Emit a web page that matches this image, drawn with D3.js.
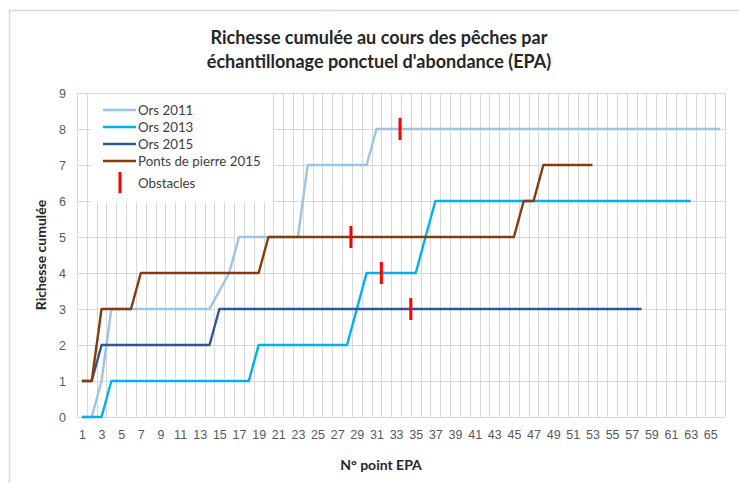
<!DOCTYPE html>
<html>
<head>
<meta charset="utf-8">
<script src="https://cdn.jsdelivr.net/npm/d3@7"></script>
<style>
  body { margin: 0; background: #fff; }
  svg { display: block; font-family: "Lato", "Liberation Sans", sans-serif; }
</style>
</head>
<body>
<svg id="chart" width="739" height="483"></svg>
<script>
// Data
const categories = d3.range(1, 67); // N° point EPA 1..66
const xTickLabels = d3.range(1, 67, 2);
const yTickLabels = [0, 1, 2, 3, 4, 5, 6, 7, 8, 9];

const seriesNames = ["Ors 2011", "Ors 2013", "Ors 2015", "Ponts de pierre 2015"];
const seriesColors = ["#9dc3e6", "#00b0f0", "#2f5597", "#843c0c"];

const ors2011 = [
  0, 0, 1, 3, 3, 3, 3, 3, 3, 3,
  3, 3, 3, 3, null, 4, 5, 5, 5, 5,
  5, 5, 5, 7, 7, 7, 7, 7, 7, 7,
  8, 8, 8, 8, 8, 8, 8, 8, 8, 8,
  8, 8, 8, 8, 8, 8, 8, 8, 8, 8,
  8, 8, 8, 8, 8, 8, 8, 8, 8, 8,
  8, 8, 8, 8, 8, 8
];
const ors2013 = [
  0, 0, 0, 1, 1, 1, 1, 1, 1, 1,
  1, 1, 1, 1, 1, 1, 1, 1, 2, 2,
  2, 2, 2, 2, 2, 2, 2, 2, 3, 4,
  4, 4, 4, 4, 4, 5, 6, 6, 6, 6,
  6, 6, 6, 6, 6, 6, 6, 6, 6, 6,
  6, 6, 6, 6, 6, 6, 6, 6, 6, 6,
  6, 6, 6
];
const ors2015 = [
  1, 1, 2, 2, 2, 2, 2, 2, 2, 2,
  2, 2, 2, 2, 3, 3, 3, 3, 3, 3,
  3, 3, 3, 3, 3, 3, 3, 3, 3, 3,
  3, 3, 3, 3, 3, 3, 3, 3, 3, 3,
  3, 3, 3, 3, 3, 3, 3, 3, 3, 3,
  3, 3, 3, 3, 3, 3, 3, 3
];
const pontsDePierre2015 = [
  1, 1, 3, 3, 3, 3, 4, 4, 4, 4,
  4, 4, 4, 4, 4, 4, 4, 4, 4, 5,
  5, 5, 5, 5, 5, 5, 5, 5, 5, 5,
  5, 5, 5, 5, 5, 5, 5, 5, 5, 5,
  5, 5, 5, 5, 5, 6, 6, 7, 7, 7,
  7, 7, 7
];

// obstacles: position along the EPA axis and level
const obstacleX = [28.4, 31.5, 33.4, 34.5];
const obstacleY = [5, 4, 8, 3];

const allSeries = [ors2011, ors2013, ors2015, pontsDePierre2015];

// Layout
const svg = d3.select("#chart");
const plot = { left: 77, right: 725, top: 93, bottom: 417 };

svg.append("rect").attr("width", 739).attr("height", 483).attr("fill", "#fff");
svg.append("rect")
  .attr("x", 9.5).attr("y", 10.5).attr("width", 760).attr("height", 500)
  .attr("fill", "none").attr("stroke", "#d9d9d9").attr("stroke-width", 1.5);

const x = d3.scaleLinear()
  .domain([categories[0] - 0.5, categories[categories.length - 1] + 0.5])
  .range([plot.left, plot.right]);
const y = d3.scaleLinear().domain([0, 9]).range([plot.bottom, plot.top]);

// Gridlines
const grid = svg.append("g").attr("stroke", "#d9d9d9").attr("stroke-width", 1);
grid.selectAll(".vg")
  .data(d3.range(categories[0] - 0.5, categories[categories.length - 1] + 1, 1))
  .join("line")
  .attr("x1", d => Math.round(x(d)) + 0.5).attr("x2", d => Math.round(x(d)) + 0.5)
  .attr("y1", plot.top).attr("y2", plot.bottom);
grid.selectAll(".hg")
  .data(yTickLabels)
  .join("line")
  .attr("x1", plot.left).attr("x2", plot.right)
  .attr("y1", d => Math.round(y(d)) + 0.5).attr("y2", d => Math.round(y(d)) + 0.5);

// Axes
const xAxis = svg.append("g")
  .attr("transform", `translate(0, ${plot.bottom})`)
  .call(d3.axisBottom(x).tickValues(xTickLabels).tickSize(0).tickPadding(13).tickFormat(d3.format("d")));
xAxis.select(".domain").remove();
xAxis.selectAll("text").attr("fill", "#595959").style("font-size", "12.5px");

const yAxis = svg.append("g")
  .attr("transform", `translate(${plot.left}, 0)`)
  .call(d3.axisLeft(y).tickValues(yTickLabels).tickSize(0).tickPadding(11).tickFormat(d3.format("d")));
yAxis.select(".domain").remove();
yAxis.selectAll("text").attr("fill", "#595959").style("font-size", "12.5px");

// Lines
const line = d3.line()
  .x(d => x(d.cat))
  .y(d => y(d.val));

allSeries.forEach((vals, i) => {
  const pts = vals.map((v, j) => ({ cat: categories[j], val: v })).filter(d => d.val !== null);
  svg.append("path")
    .datum(pts)
    .attr("d", line)
    .attr("fill", "none")
    .attr("stroke", seriesColors[i])
    .attr("stroke-width", 2.4)
    .attr("stroke-linejoin", "round");
});

// Obstacles
svg.selectAll(".obstacle")
  .data(obstacleX.map((d, i) => ({ x: d, y: obstacleY[i] })))
  .join("rect")
  .attr("x", d => x(d.x) - 1.5)
  .attr("y", d => y(d.y) - 11)
  .attr("width", 3)
  .attr("height", 22)
  .attr("fill", "#ff0000");

// Legend
const legend = svg.append("g");
legend.append("rect")
  .attr("x", 92).attr("y", 94).attr("width", 181).attr("height", 108)
  .attr("fill", "#fff");
const rowY = [110, 127, 144, 161];
seriesNames.forEach((name, i) => {
  legend.append("line")
    .attr("x1", 103).attr("x2", 136)
    .attr("y1", rowY[i]).attr("y2", rowY[i])
    .attr("stroke", seriesColors[i]).attr("stroke-width", 2.4);
  legend.append("text")
    .attr("x", 138).attr("y", rowY[i]).attr("dy", "0.35em")
    .attr("fill", "#404040").style("font-size", "13.3px")
    .text(name);
});
legend.append("rect")
  .attr("x", 118.5).attr("y", 172).attr("width", 3).attr("height", 21)
  .attr("fill", "#ff0000");
legend.append("text")
  .attr("x", 138).attr("y", 183).attr("dy", "0.35em")
  .attr("fill", "#404040").style("font-size", "13.3px")
  .text("Obstacles");

// Titles
const title = svg.append("text")
  .attr("text-anchor", "middle")
  .attr("fill", "#262626")
  .style("font-size", "18px").style("font-weight", "bold");
title.append("tspan").attr("x", 379).attr("y", 44).text("Richesse cumulée au cours des pêches par");
title.append("tspan").attr("x", 379).attr("y", 68).text("échantillonage ponctuel d'abondance (EPA)");

svg.append("text")
  .attr("transform", `translate(46, ${(plot.top + plot.bottom) / 2}) rotate(-90)`)
  .attr("text-anchor", "middle")
  .attr("fill", "#262626")
  .style("font-size", "14px").style("font-weight", "bold")
  .text("Richesse cumulée");

svg.append("text")
  .attr("x", 381).attr("y", 470)
  .attr("text-anchor", "middle")
  .attr("fill", "#262626")
  .style("font-size", "14px").style("font-weight", "bold")
  .text("N° point EPA");
</script>
</body>
</html>
